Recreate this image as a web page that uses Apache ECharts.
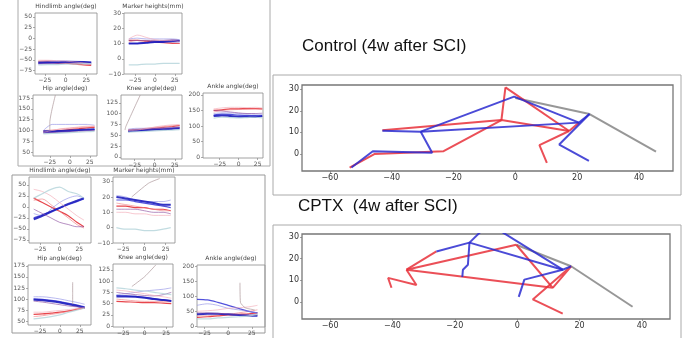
<!DOCTYPE html>
<html>
<head>
<meta charset="utf-8">
<title>Control vs CPTX kinematics</title>
<script src="https://cdn.jsdelivr.net/npm/echarts@6/dist/echarts.min.js"></script>
</head>
<body style="margin:0">
<div id="container" style="width:686px;height:338px"></div>
<script>
// shared x positions of the trajectory traces
var xs = [-33, -22, -11, 0, 11, 22, 31];

// every panel has 8 traces in this order:
// red, light red, blue, light blue, thick blue, purple, pink, pale
// ---- Control (4w after SCI)
var ctlHindlimb = [
    [-55, -55, -57, -58, -60, -62, -63],
    [-53, -52, -54, -56, -58, -60, -61],
    [-58, -57, -56, -55, -55, -56, -57],
    [-54, -53, -52, -52, -53, -54, -55],
    [-57, -56, -56, -55, -55, -55, -56],
    [-60, -59, -59, -58, -58, -59, -60],
    [-51, -51, -52, -53, -55, -57, -59],
    [-62, -61, -61, -60, -60, -59, -59]
];
var ctlMarker = [
    [12, 12, 11.5, 11, 10.5, 10, 10],
    [11, 12, 12, 11.5, 11, 10.5, 10],
    [10, 10, 10.5, 11, 11.5, 12, 12],
    [13, 13.5, 13, 13, 13, 13, 12.5],
    [10, 10, 10.5, 11, 11, 11.5, 11.5],
    [12, 12, 12, 12, 12, 12.5, 12],
    [13, 15.5, 14, 12.5, 12, 12, 11],
    [-4, -4, -3.5, -3.5, -3, -3, -3]
];
var ctlHip = [
    [97, 98, 100, 102, 104, 106, 107],
    [100, 101, 103, 105, 107, 108, 109],
    [95, 96, 97, 98, 100, 101, 102],
    [100, 114, 114, 114, 114, 114, 112],
    [98, 98, 99, 100, 101, 102, 103],
    [94, 95, 96, 97, 98, 99, 100],
    [96, 100, 104, 106, 108, 110, 110],
    [92, 93, 94, 95, 96, 97, 98]
];
var ctlKnee = [
    [60, 62, 64, 66, 68, 70, 72],
    [63, 64, 66, 68, 70, 72, 73],
    [58, 60, 62, 63, 65, 66, 67],
    [64, 66, 66, 66, 67, 68, 70],
    [60, 61, 62, 63, 64, 65, 66],
    [62, 63, 64, 65, 66, 67, 68],
    [61, 62, 65, 69, 72, 74, 75],
    [57, 58, 59, 60, 61, 62, 63]
];
var ctlAnkle = [
    [150, 152, 155, 155, 156, 156, 155],
    [145, 150, 152, 153, 154, 155, 154],
    [135, 138, 137, 135, 134, 133, 132],
    [140, 142, 142, 140, 139, 138, 137],
    [132, 134, 132, 130, 130, 130, 132],
    [150, 148, 145, 142, 140, 140, 141],
    [155, 158, 160, 160, 159, 160, 158],
    [125, 128, 127, 126, 127, 128, 126]
];
// ---- CPTX (4w after SCI)
var cptHindlimb = [
    [20, 10, 0, -10, -20, -35, -45],
    [15, 18, 5, -10, -25, -40, -48],
    [-25, -18, -10, -3, 5, 12, 18],
    [-15, -20, -5, 10, 20, 25, 20],
    [-28, -20, -11, -2, 7, 14, 20],
    [-5, -15, -25, -35, -40, -45, -45],
    [40, 35, 25, 10, -5, -20, -30],
    [20, 30, 40, 45, 35, 30, 20]
];
var cptMarker = [
    [14, 14, 13, 13, 12, 12, 11],
    [16, 15, 14, 13, 12, 11, 11],
    [18, 18, 17, 16, 15, 14, 13],
    [21, 20, 18, 17, 17, 17, 18],
    [20, 19, 18, 17, 16, 15, 15],
    [12, 12, 12, 11, 10, 10, 9],
    [10, 10, 9, 9, 8, 8, 8],
    [0, -1, -1, -2, -2, -1, 0]
];
var cptHip = [
    [65, 66, 68, 70, 73, 77, 80],
    [60, 62, 65, 68, 72, 76, 80],
    [100, 99, 97, 94, 90, 86, 82],
    [105, 105, 103, 100, 96, 92, 88],
    [98, 97, 95, 92, 88, 84, 80],
    [95, 93, 90, 87, 84, 82, 80],
    [70, 70, 72, 74, 76, 78, 80],
    [55, 57, 60, 64, 70, 75, 79]
];
var cptKnee = [
    [55, 54, 53, 52, 52, 51, 50],
    [60, 58, 56, 55, 55, 55, 54],
    [68, 67, 66, 64, 61, 58, 56],
    [70, 72, 75, 78, 80, 82, 85],
    [66, 66, 65, 63, 60, 58, 56],
    [75, 72, 70, 68, 67, 70, 75],
    [80, 78, 75, 72, 68, 65, 62],
    [85, 83, 80, 78, 75, 72, 70]
];
var cptAnkle = [
    [30, 32, 35, 38, 40, 42, 45],
    [35, 35, 38, 40, 45, 50, 55],
    [90, 88, 80, 70, 60, 50, 45],
    [70, 75, 70, 60, 55, 50, 45],
    [40, 42, 42, 40, 38, 36, 35],
    [45, 45, 43, 42, 40, 38, 38],
    [50, 52, 55, 60, 62, 65, 70],
    [25, 25, 28, 30, 32, 35, 40]
];
// stray single traces (gray)
var ctlHipStray = [[-25, 100], [-25, 118], [-18, 182]];
var ctlKneeStray = [[-37, 62], [-36, 70], [-18, 143]];
var cptMarkerStray = [[-15, 20], [5, 29], [18, 32]];
var cptHipStray = [[16, 88], [16, 112], [16, 138]];
var cptKneeStray = [[-15, 88], [0, 110], [13, 136]];
var cptAnkleStray = [[28, 55], [18, 62], [13, 80], [12.5, 145]];

// ---- stick figures (x, y in mm)
var ctlRed = [
    [[-3.2, 30.9], [-4.5, 15.7]],
    [[-3.2, 30.9], [17.4, 10.6]],
    [[-43, 11], [-4.5, 15.7], [17.4, 10.6]],
    [[-4.5, 15.7], [-23.2, 1.2], [-45.6, -0.1], [-53.6, -6.4]],
    [[17.4, 10.6], [7.8, 4.0], [10.2, -4.2]],
    [[17.4, 10.6], [20.6, 14.5]]
];
var ctlBlue = [
    [[-43, 10.7], [-30.6, 10.3], [20.6, 14.5]],
    [[-30.6, 10.3], [-0.4, 26.6], [20.6, 14.5], [24, 18.5]],
    [[-30.6, 10.3], [-26.9, 0.5], [-46.1, 1.2], [-53, -6.4]],
    [[24, 18.5], [14.2, 4.3], [23.8, -3.3]]
];
var ctlGray = [[0, 26], [24, 18.5], [45.5, 1]];

var cptRed = [
    [[-0.3, 26.5], [-35.5, 14.9], [11.4, 6.5], [-0.3, 26.5]],
    [[-35.5, 14.9], [-25.9, 23.4]],
    [[11.4, 6.5], [17.3, 16.5], [5, 1.1], [14.6, -5.5]],
    [[-35.5, 14.9], [-32.3, 7.8], [-41.4, 11.1], [-40.3, 6.5]]
];
var cptBlue = [
    [[-25.9, 23.4], [-15.3, 27.5], [14.6, 14.9], [17.3, 16.5]],
    [[-15.3, 27.5], [-10, 35]],
    [[-5.5, 33], [14.6, 14.9]],
    [[-15.3, 27.5], [-15.8, 17.2], [-17.4, 14.9], [-17.6, 11.5]],
    [[14.6, 14.9], [2.3, 10.3], [0.5, 2.3]]
];
var cptGray = [[-0.3, 26.5], [17.3, 16.5], [37, -2.3]];

var tickAngle = [-75, -50, -25, 0, 25, 50];
var tickHip = [50, 75, 100, 125, 150, 175];
var tickKnee = [0, 25, 50, 75, 100, 125];
var tickAnkle = [0, 50, 100, 150, 200];
var tickMarker = [-10, 0, 10, 20, 30];
var tickTraj = [-25, 0, 25];
var tickStickX = [-60, -40, -20, 0, 20, 40];
var tickStickY = [0, 10, 20, 30];

var traceStyles = [
    {color: '#e3242b', width: 1.2, opacity: 0.85},
    {color: '#ef7a80', width: 0.9, opacity: 0.7},
    {color: '#3434d6', width: 1.2, opacity: 0.85},
    {color: '#8f8fe6', width: 0.9, opacity: 0.7},
    {color: '#1d1dbd', width: 2.0, opacity: 0.9},
    {color: '#8a4c9e', width: 0.9, opacity: 0.7},
    {color: '#f2a7b4', width: 0.9, opacity: 0.7},
    {color: '#b3d3da', width: 1.2, opacity: 0.8}
];

var panels = [
    {title: 'Hindlimb angle(deg)', left: 35, top: 13, w: 62, h: 61, x: [-37, 38], y: [-83, 59], yt: tickAngle, lines: ctlHindlimb},
    {title: 'Marker heights(mm)', left: 124, top: 13, w: 58, h: 61, x: [-39, 34], y: [-10, 30], yt: tickMarker, lines: ctlMarker},
    {title: 'Hip angle(deg)', left: 33, top: 95, w: 64, h: 61, x: [-46, 34], y: [41, 182], yt: tickHip, lines: ctlHip, stray: ctlHipStray},
    {title: 'Knee angle(deg)', left: 121, top: 95, w: 61, h: 64, x: [-42, 34], y: [-5, 143], yt: tickKnee, lines: ctlKnee, stray: ctlKneeStray},
    {title: 'Ankle angle(deg)', left: 203, top: 93, w: 60, h: 65, x: [-47, 32], y: [-3, 206], yt: tickAnkle, lines: ctlAnkle},
    {title: 'Hindlimb angle(deg)', left: 29, top: 177, w: 62, h: 66, x: [-39, 40], y: [-82, 68], yt: tickAngle, lines: cptHindlimb},
    {title: 'Marker heights(mm)', left: 113, top: 177, w: 62, h: 66, x: [-37, 36], y: [-10, 33], yt: tickMarker, lines: cptMarker, stray: cptMarkerStray},
    {title: 'Hip angle(deg)', left: 28, top: 265, w: 63, h: 60, x: [-40, 39], y: [41, 177], yt: tickHip, lines: cptHip, stray: cptHipStray},
    {title: 'Knee angle(deg)', left: 113, top: 264, w: 60, h: 63, x: [-37, 33], y: [-2, 138], yt: tickKnee, lines: cptKnee, stray: cptKneeStray},
    {title: 'Ankle angle(deg)', left: 197, top: 265, w: 68, h: 62, x: [-33, 39], y: [-2, 204], yt: tickAnkle, lines: cptAnkle, stray: cptAnkleStray}
];

var sticks = [
    {left: 302, top: 85, w: 371, h: 86, x: [-69, 51], y: [-8, 32], red: ctlRed, blue: ctlBlue, gray: ctlGray},
    {left: 302, top: 234, w: 368, h: 85, x: [-69, 49], y: [-8, 31.5], red: cptRed, blue: cptBlue, gray: cptGray}
];

function minus(v) {
    return String(v).replace('-', '\u2212');
}

var grids = [], xAxes = [], yAxes = [], series = [], graphics = [];

function addAxes(i, p, xt, yt, fs, col, border, bw) {
    grids.push({
        left: p.left, top: p.top, width: p.w, height: p.h,
        show: true, borderColor: border, borderWidth: bw,
        outerBoundsMode: 'none'
    });
    var common = {
        type: 'value', gridIndex: i,
        splitLine: {show: false},
        axisLine: {show: false, onZero: false},
        axisTick: {length: 2, lineStyle: {color: border, width: 0.7}},
        axisLabel: {fontSize: fs, color: col, margin: 3, fontFamily: 'DejaVu Sans', formatter: minus}
    };
    xAxes.push(echarts.util.merge({min: p.x[0], max: p.x[1],
        axisTick: {customValues: xt}, axisLabel: {customValues: xt}}, common));
    yAxes.push(echarts.util.merge({min: p.y[0], max: p.y[1],
        axisTick: {customValues: yt}, axisLabel: {customValues: yt}}, common));
}

panels.forEach(function (p, i) {
    addAxes(i, p, tickTraj, p.yt, 6, '#555', '#8a8a8a', 0.8);
    p.lines.forEach(function (ys, j) {
        var st = traceStyles[j];
        series.push({
            type: 'line', xAxisIndex: i, yAxisIndex: i, silent: true,
            symbol: 'none', smooth: 0.3,
            data: xs.map(function (x, k) { return [x, ys[k]]; }),
            lineStyle: {color: st.color, width: st.width, opacity: st.opacity}
        });
    });
    if (p.stray) {
        series.push({
            type: 'line', xAxisIndex: i, yAxisIndex: i, silent: true,
            symbol: 'none', smooth: 0.2, data: p.stray,
            lineStyle: {color: '#b09a9e', width: 0.9, opacity: 0.8}
        });
    }
    graphics.push({
        type: 'text', x: p.left + p.w / 2, y: p.top - 7,
        style: {text: p.title, fontSize: 6, fill: '#444', fontFamily: 'DejaVu Sans', align: 'center', verticalAlign: 'middle'}
    });
});

sticks.forEach(function (s, n) {
    var i = panels.length + n;
    addAxes(i, s, tickStickX, tickStickY, 8, '#333', '#777', 1.3);
    function seg(pts, color, op) {
        series.push({
            type: 'line', xAxisIndex: i, yAxisIndex: i, silent: true,
            symbol: 'none', data: pts, clip: true,
            lineStyle: {color: color, width: 2, opacity: op}
        });
    }
    seg(s.gray, '#8c8c8c', 0.9);
    s.red.forEach(function (pts) { seg(pts, '#e8303a', 0.85); });
    s.blue.forEach(function (pts) { seg(pts, '#2b2bd0', 0.85); });
});

// image frames and headings
graphics.push(
    {type: 'rect', shape: {x: 18, y: -2, width: 252, height: 168}, style: {fill: 'none', stroke: '#aaa', lineWidth: 1}},
    {type: 'rect', shape: {x: 12, y: 175, width: 253, height: 158}, style: {fill: 'none', stroke: '#999', lineWidth: 1}},
    {type: 'rect', shape: {x: 273, y: 75, width: 408, height: 120}, style: {fill: 'none', stroke: '#aaa', lineWidth: 1}},
    {type: 'rect', shape: {x: 273, y: 225, width: 408, height: 125}, style: {fill: 'none', stroke: '#aaa', lineWidth: 1}},
    {type: 'text', x: 302, y: 46, style: {text: 'Control (4w after SCI)', fontSize: 17, fill: '#111', fontFamily: 'Liberation Sans', verticalAlign: 'middle'}},
    {type: 'text', x: 298, y: 206, style: {text: 'CPTX  (4w after SCI)', fontSize: 17, fill: '#111', fontFamily: 'Liberation Sans', verticalAlign: 'middle'}}
);

var chart = echarts.init(document.getElementById('container'));
chart.setOption({
    animation: false,
    backgroundColor: '#fff',
    grid: grids,
    xAxis: xAxes,
    yAxis: yAxes,
    series: series,
    graphic: graphics
});
</script>
</body>
</html>
